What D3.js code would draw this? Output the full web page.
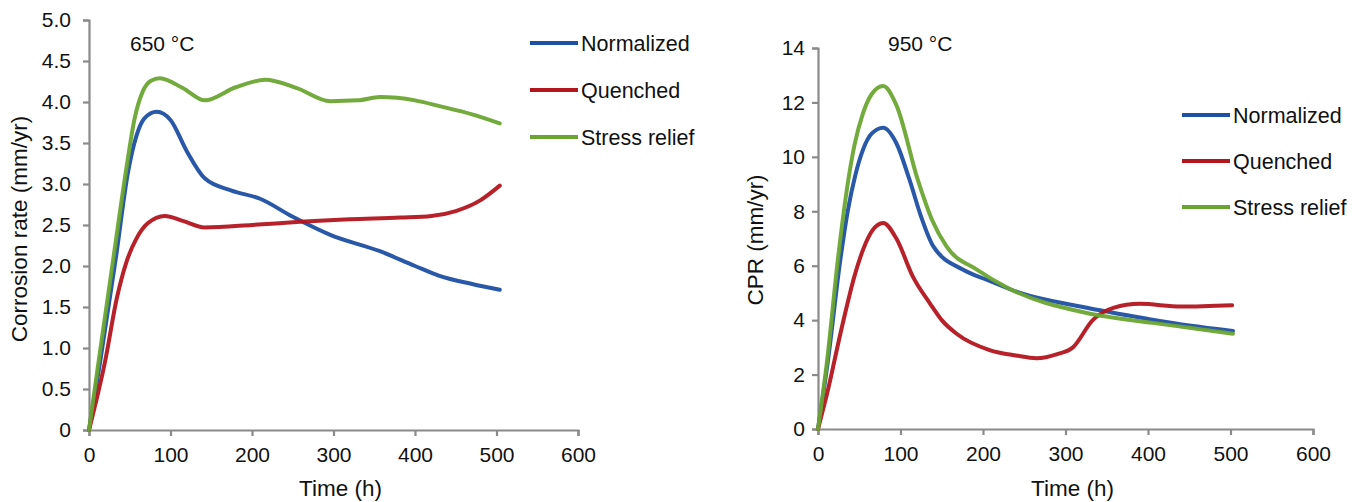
<!DOCTYPE html>
<html><head><meta charset="utf-8">
<script src="https://cdn.jsdelivr.net/npm/d3@7"></script>
<style>body{margin:0;background:#fff}svg{display:block;font-family:"Liberation Sans",Arial,sans-serif}</style>
</head><body><svg id="c" width="1352" height="502"></svg>
<script>
const seriesNames = ["Normalized","Quenched","Stress relief"];
const colors = ["#1d4fa3","#b3151d","#6aa532"];

// Panel A: 650 °C  [time h, rate mm/yr]
const a_normalized = [[0,0],[14,0.85],[33,2.1],[48,3.15],[58,3.58],[68,3.8],[83,3.88],[100,3.78],[120,3.4],[142,3.07],[175,2.92],[210,2.82],[250,2.6],[296,2.38],[357,2.18],[400,2.0],[430,1.88],[470,1.78],[504,1.71]];
const a_quenched   = [[0,0],[20,0.85],[34,1.6],[46,2.05],[58,2.33],[72,2.52],[93,2.61],[115,2.55],[142,2.47],[200,2.5],[259,2.54],[320,2.57],[382,2.59],[420,2.61],[450,2.67],[480,2.8],[504,2.98]];
const a_stress     = [[0,0],[12,0.85],[30,2.1],[46,3.2],[56,3.8],[66,4.13],[76,4.26],[87,4.29],[115,4.17],[142,4.02],[180,4.18],[216,4.27],[255,4.17],[296,4.01],[330,4.02],[357,4.06],[400,4.02],[430,3.95],[470,3.85],[504,3.74]];

// Panel B: 950 °C  [time h, CPR mm/yr]
const b_normalized = [[0,0],[12,2.5],[27,6.2],[36,8.0],[45,9.3],[55,10.3],[65,10.85],[79,11.07],[95,10.5],[111,9.15],[125,7.8],[140,6.7],[176,5.85],[205,5.48],[245,5.0],[318,4.5],[399,4.05],[450,3.8],[503,3.6]];
const b_quenched   = [[0,0],[11,1.3],[29,3.75],[45,5.7],[56,6.7],[66,7.3],[79,7.57],[95,7.0],[115,5.6],[136,4.6],[150,4.0],[168,3.5],[208,2.9],[240,2.7],[265,2.6],[290,2.75],[309,3.0],[333,4.0],[358,4.45],[390,4.6],[440,4.5],[502,4.55]];
const b_stress     = [[0,0],[11,2.5],[24,6.2],[35,8.8],[44,10.4],[54,11.55],[65,12.3],[79,12.6],[95,11.9],[121,9.15],[138,7.7],[156,6.7],[193,5.85],[229,5.2],[326,4.26],[406,3.9],[450,3.72],[503,3.5]];

const xTicks = [0,100,200,300,400,500,600];
const aYTicks = [0,0.5,1.0,1.5,2.0,2.5,3.0,3.5,4.0,4.5,5.0];
const bYTicks = [0,2,4,6,8,10,12,14];

const svg = d3.select("#c");

function panel(o){
  const g = svg.append("g");
  const x = d3.scaleLinear().domain([0,600]).range([o.x0,o.x1]);
  const y = d3.scaleLinear().domain([0,o.ymax]).range([o.y0,o.y1]);
  const xa = g.append("g").attr("transform",`translate(0,${o.y0})`)
    .call(d3.axisBottom(x).tickValues(xTicks).tickFormat(d3.format("d")).tickSize(6).tickSizeOuter(6).tickPadding(11));
  const ya = g.append("g").attr("transform",`translate(${o.x0},0)`)
    .call(d3.axisLeft(y).tickValues(o.yTicks).tickFormat(o.fmt).tickSize(6).tickSizeOuter(6).tickPadding(o.ypad));
  [xa,ya].forEach(a=>{
    a.selectAll("path,line").attr("stroke","#8a8a8a").attr("stroke-width",2.2);
    a.selectAll("text").attr("fill","#111").style("font-size","21px");
  });
  g.append("text").attr("x",(o.x0+o.x1)/2+7).attr("y",496).attr("text-anchor","middle")
    .style("font-size","22.5px").attr("fill","#111").text("Time (h)");
  g.append("text").attr("transform",`translate(${o.ytx},${o.yty}) rotate(-90)`).attr("text-anchor","middle")
    .style("font-size","22.5px").attr("fill","#111").text(o.ytitle);
  g.append("text").attr("x",o.tx).attr("y",51).style("font-size","21px").attr("fill","#111").text(o.title);
  const line = d3.line().x(d=>x(d[0])).y(d=>y(d[1])).curve(d3.curveMonotoneX);
  o.data.forEach((d,i)=>{
    g.append("path").datum(d).attr("d",line).attr("fill","none").attr("stroke",colors[i])
      .attr("stroke-width",4).attr("stroke-linejoin","round").attr("stroke-linecap","round").attr("opacity",0.95);
  });
  seriesNames.forEach((n,i)=>{
    const ly = o.ly + i*o.lgap;
    g.append("line").attr("x1",o.lx).attr("x2",o.lx+48).attr("y1",ly).attr("y2",ly)
      .attr("stroke",colors[i]).attr("stroke-width",4);
    g.append("text").attr("x",o.lx+51).attr("y",ly+7.5).style("font-size","21.5px").attr("fill","#111").text(n);
  });
}

panel({x0:89,x1:578,y0:430,y1:20,ymax:5,yTicks:aYTicks,ypad:12,fmt:d=>d===0?"0":d3.format(".1f")(d),
  ytitle:"Corrosion rate (mm/yr)",ytx:27,yty:229,title:"650 °C",tx:130,
  data:[a_normalized,a_quenched,a_stress],lx:530,ly:43,lgap:47});
panel({x0:818,x1:1313,y0:429,y1:48,ymax:14,yTicks:bYTicks,ypad:7,fmt:d3.format("d"),
  ytitle:"CPR (mm/yr)",ytx:763,yty:240,title:"950 °C",tx:888,
  data:[b_normalized,b_quenched,b_stress],lx:1182,ly:115,lgap:46});
</script></body></html>
